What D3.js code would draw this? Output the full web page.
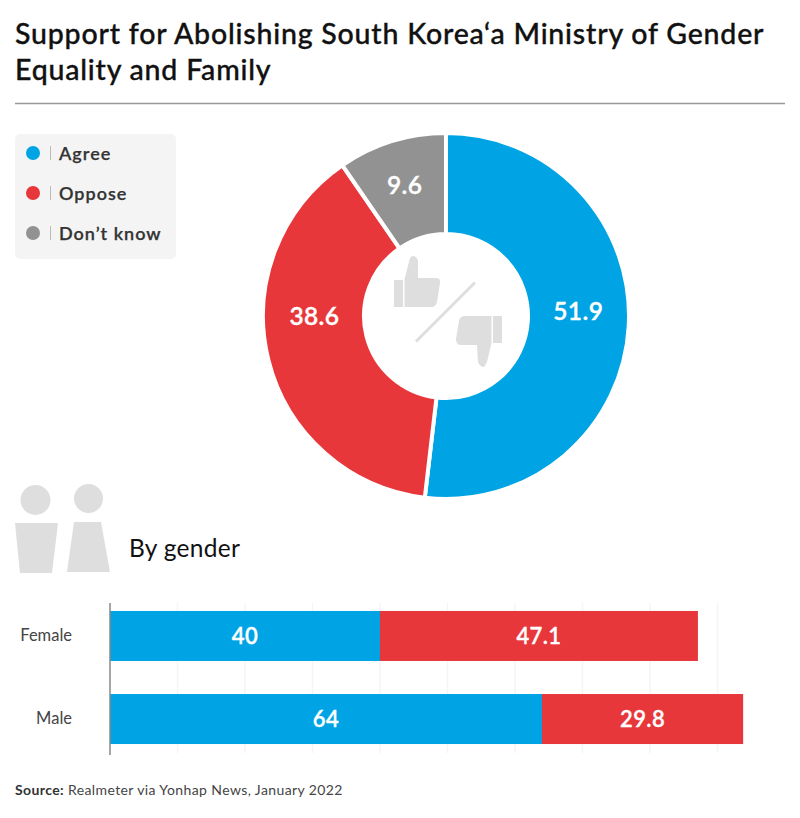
<!DOCTYPE html>
<meta charset="utf-8">
<style>
body { margin: 0; background: #fff; }
text { font-family: Lato, "Noto Sans", sans-serif; }
.title { font-size: 28.5px; font-weight: 500; fill: #111; stroke: #111; stroke-width: 0.35px; letter-spacing: 0.8px; }
.legend text { font-size: 18px; font-weight: 600; fill: #333; stroke: #333; stroke-width: 0.25px; letter-spacing: 1px; }
.val { font-size: 22px; font-weight: 600; fill: #fff; stroke: #fff; stroke-width: 0.35px; text-anchor: middle; letter-spacing: 0.4px; }
.axis text { font-size: 16.5px; fill: #444; }
</style>
<svg width="800" height="818"></svg>
<script src="https://d3js.org/d3.v7.min.js"></script>
<script>

var categories = ["Agree", "Oppose", "Don\u2019t know"],
    overall = [51.9, 38.6, 9.6],
    genders = ["Female", "Male"],
    agreeByGender = [40, 64],
    opposeByGender = [47.1, 29.8],
    gridTicks = [10, 20, 30, 40, 50, 60, 70, 80, 90];

var colors = ["#00a4e4", "#e7373b", "#929292"];

var svg = d3.select("svg");

// heading
svg.append("text").attr("class", "title").attr("x", 15).attr("y", 44)
    .text("Support for Abolishing South Korea\u2018a Ministry of Gender");
svg.append("text").attr("class", "title").attr("x", 15).attr("y", 80)
    .text("Equality and Family");
svg.append("line").attr("x1", 15).attr("x2", 785).attr("y1", 103.5).attr("y2", 103.5)
    .attr("stroke", "#999").attr("stroke-width", 1.5);

// legend
var legend = svg.append("g").attr("class", "legend");
legend.append("rect").attr("x", 15).attr("y", 134).attr("width", 161).attr("height", 125)
    .attr("rx", 5).attr("fill", "#f4f4f4");
var item = legend.selectAll(".item").data(categories).enter().append("g")
    .attr("class", "item")
    .attr("transform", function(d, i) { return "translate(0," + (153 + i * 40) + ")"; });
item.append("circle").attr("cx", 33).attr("r", 7)
    .attr("fill", function(d, i) { return colors[i]; });
item.append("line").attr("x1", 50.5).attr("x2", 50.5).attr("y1", -7).attr("y2", 7)
    .attr("stroke", "#bbb");
item.append("text").attr("x", 59).attr("y", 0.5).attr("dy", "0.35em").text(function(d) { return d; });

// donut
var pieG = svg.append("g").attr("transform", "translate(446,316)");
var pie = d3.pie().sort(null);
var arc = d3.arc().outerRadius(183).innerRadius(82);
// labels in the original sit a little off the centroids
var labelNudge = [[0, -12], [-3, -31], [-2, -4]];

var slices = pieG.selectAll(".slice").data(pie(overall)).enter().append("g").attr("class", "slice");
slices.append("path")
    .attr("d", arc)
    .attr("fill", function(d, i) { return colors[i]; })
    .attr("stroke", "#fff")
    .attr("stroke-width", 4);
slices.append("text")
    .attr("class", "val")
    .attr("transform", function(d, i) {
      var c = arc.centroid(d);
      return "translate(" + (c[0] + labelNudge[i][0]) + "," + (c[1] + labelNudge[i][1]) + ")";
    })
    .attr("dy", "0.35em")
    .style("font-size", "24.5px")
    .text(function(d) { return d.data; });

// thumbs icon
var icons = svg.append("g").attr("fill", "#dedede");
icons.append("rect").attr("x", 394).attr("y", 280).attr("width", 9).attr("height", 27);
icons.append("path").attr("d", "M404.5 307V279L410 258Q412 255 415 256.5Q418 258 418 262V278H437Q441 279 440 283L437 302Q436 307 431 307Z");
icons.append("rect").attr("x", 493).attr("y", 316).attr("width", 9).attr("height", 27);
icons.append("path").attr("d", "M491.5 316H465Q460 316 459 321L456 339Q456 345 461 345H477L478 362Q480 367 484 367L487 362L491.5 343Z");
svg.append("line").attr("x1", 475).attr("y1", 282.5).attr("x2", 416).attr("y2", 341.5)
    .attr("stroke", "#dedede").attr("stroke-width", 3);

// people icon
var people = svg.append("g").attr("fill", "#dedede");
people.append("circle").attr("cx", 35.5).attr("cy", 500).attr("r", 15);
people.append("circle").attr("cx", 88.5).attr("cy", 498.5).attr("r", 14.5);
people.append("path").attr("d", "M15 523H58L52 573H20Z");
people.append("path").attr("d", "M74 522H101L110 572H67Z");

svg.append("text").attr("x", 129).attr("y", 557)
    .style("font-size", "24.5px").style("fill", "#111").style("letter-spacing", "0.3px")
    .text("By gender");

// stacked bars
var x = d3.scaleLinear().domain([0, 100]).range([110, 785]);
var y = d3.scaleBand().domain(genders).range([603, 752]).paddingInner(0.398).paddingOuter(0.096);

svg.append("g").selectAll("line").data(gridTicks).enter().append("line")
    .attr("x1", x).attr("x2", x).attr("y1", 603).attr("y2", 753)
    .attr("stroke", "#f5f5f5").attr("stroke-width", 1.5);

var stack = d3.stack().keys([0, 1])
    .value(function(d, k) { return d[k]; })(genders.map(function(g, i) {
      return [agreeByGender[i], opposeByGender[i]];
    }));

stack.forEach(function(layer, k) {
  var g = svg.append("g");
  g.selectAll("rect").data(layer).enter().append("rect")
      .attr("x", function(d) { return x(d[0]); })
      .attr("y", function(d, i) { return y(genders[i]); })
      .attr("width", function(d) { return x(d[1]) - x(d[0]); })
      .attr("height", y.bandwidth())
      .attr("fill", colors[k]);
  g.selectAll("text").data(layer).enter().append("text")
      .attr("class", "val")
      .attr("x", function(d) { return (x(d[0]) + x(d[1])) / 2; })
      .attr("y", function(d, i) { return y(genders[i]) + y.bandwidth() / 2; })
      .attr("dy", "0.35em")
      .text(function(d) { return d[1] - d[0] === Math.round(d[1] - d[0]) ? d[1] - d[0] : (d[1] - d[0]).toFixed(1); });
});

var axis = svg.append("g").attr("class", "axis")
    .attr("transform", "translate(110,0)")
    .call(d3.axisLeft(y).tickSize(0).tickPadding(38));
axis.select(".domain").remove();
axis.selectAll("text").style("font-family", "Lato");
svg.append("line").attr("x1", 110).attr("x2", 110).attr("y1", 603).attr("y2", 755)
    .attr("stroke", "#888").attr("stroke-width", 1.5);

// source
var source = svg.append("text").attr("x", 15).attr("y", 795)
    .style("font-size", "14px").style("fill", "#444").style("letter-spacing", "0.4px");
source.append("tspan").style("font-weight", 700).style("fill", "#333").text("Source: ");
source.append("tspan").text("Realmeter via Yonhap News, January 2022");

</script>
